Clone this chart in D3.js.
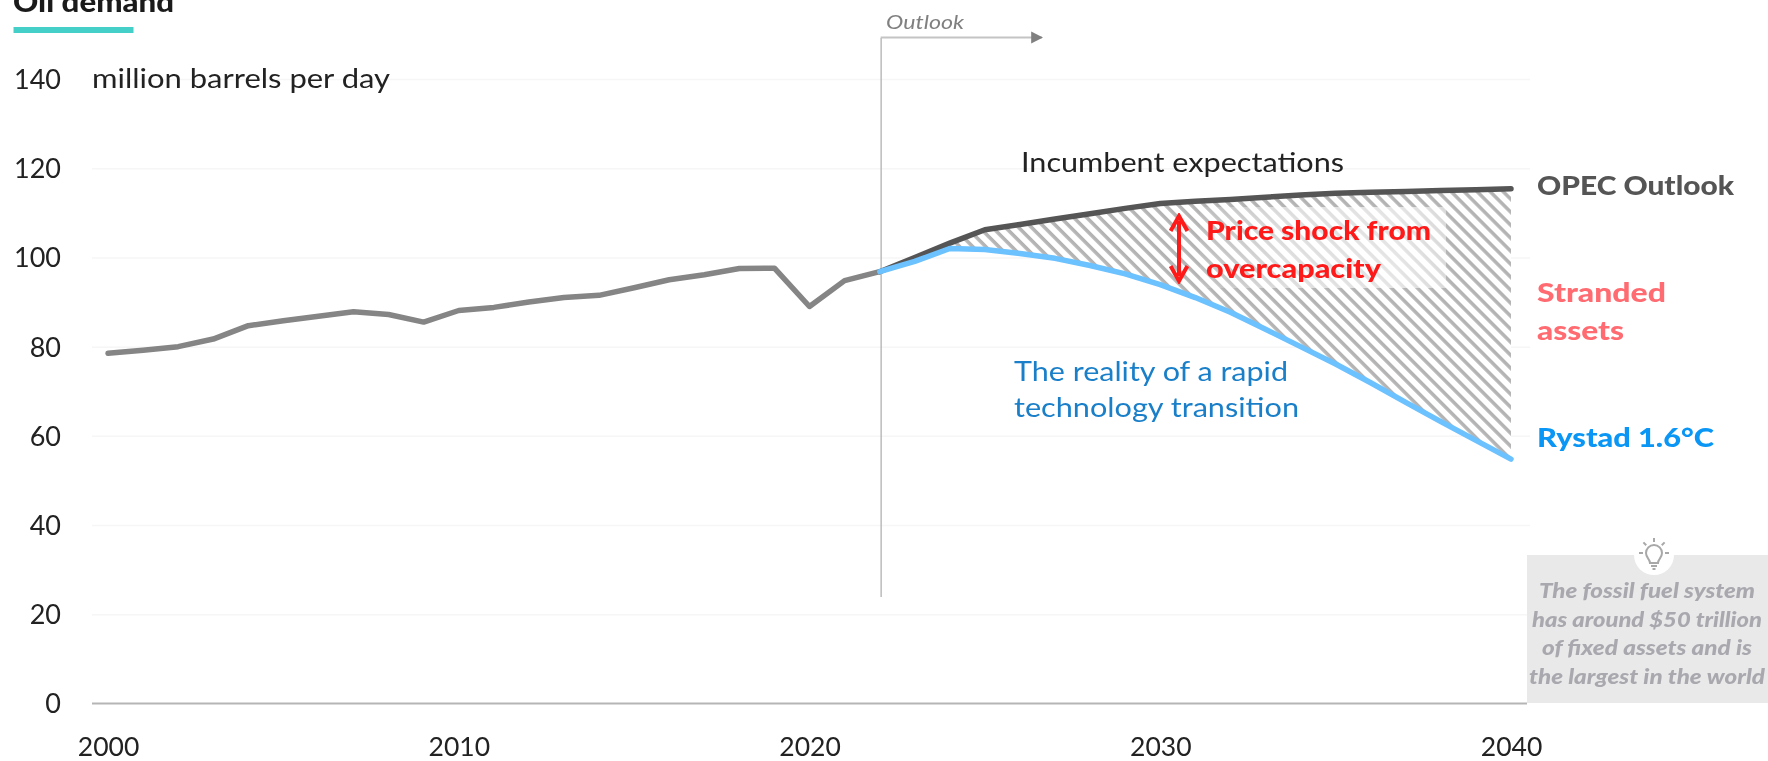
<!DOCTYPE html>
<html><head><meta charset="utf-8">
<script src="https://cdn.jsdelivr.net/npm/d3@7"></script>
<style>
html,body{margin:0;padding:0;background:#fff;overflow:hidden}
svg{display:block;font-family:Lato,sans-serif;filter:blur(0.5px)}
</style></head><body>
<svg id="chart" width="1768" height="761"></svg>
<script>
const historyYears=[2000,2001,2002,2003,2004,2005,2006,2007,2008,2009,2010,2011,2012,2013,2014,2015,2016,2017,2018,2019,2020,2021,2022];
const historyValues=[78.5,79.2,80,81.7,84.7,85.8,86.8,87.8,87.2,85.5,88.1,88.8,90,91,91.5,93.2,95,96.1,97.5,97.6,89,94.8,96.8];
const outlookYears=[2022,2023,2024,2025,2026,2027,2028,2029,2030,2031,2032,2033,2034,2035,2036,2037,2038,2039,2040];
const opecValues=[96.8,100,103.2,106.2,107.4,108.6,109.8,111,112.1,112.6,113,113.5,114,114.4,114.6,114.8,115,115.2,115.4];
const rystadValues=[96.8,99.1,102,101.8,100.9,99.8,98.2,96.3,93.9,91,87.7,83.9,80,76.1,71.9,67.5,63.2,59,54.8];
const yTicks=[0,20,40,60,80,100,120,140];
const xTicks=[2000,2010,2020,2030,2040];
const outlookStart=2022;

const svg=d3.select("#chart");
const x=d3.scaleLinear().domain([2000,2040]).range([108,1511]);
const y=d3.scaleLinear().domain([0,140]).range([703.5,79]);
const defs=svg.append("defs");

const hatch=defs.append("pattern").attr("id","hatch").attr("patternUnits","userSpaceOnUse")
  .attr("width",9.2).attr("height",9.2).attr("patternTransform","rotate(45)");
hatch.append("rect").attr("width",9.2).attr("height",9.2).attr("fill","#fff");
hatch.append("rect").attr("y",0).attr("width",9.2).attr("height",3.5).attr("fill","#b4b4b4");

const fade=defs.append("linearGradient").attr("id","fade");
[[0,0.1],[0.35,0.55],[0.8,0.65],[1,0.5]].forEach(([o,a])=>
  fade.append("stop").attr("offset",o).attr("stop-color","#fff").attr("stop-opacity",a));

const arrow=defs.append("marker").attr("id","head").attr("viewBox","0 0 10 10").attr("refX",9).attr("refY",5)
  .attr("markerUnits","userSpaceOnUse").attr("markerWidth",12).attr("markerHeight",14).attr("orient","auto");
arrow.append("path").attr("d","M0,0L10,5L0,10Z").attr("fill","#808080");

const redHead=defs.append("marker").attr("id","redhead").attr("viewBox","0 0 10 10").attr("refX",6).attr("refY",5)
  .attr("markerUnits","userSpaceOnUse").attr("markerWidth",20).attr("markerHeight",20).attr("orient","auto-start-reverse");
redHead.append("path").attr("d","M1,0.8L8.5,5L1,9.2").attr("fill","none").attr("stroke","#ff1a1a").attr("stroke-width",2);

// Axes
const gridAxis=d3.axisLeft(y).tickValues(yTicks).tickSize(-(1530-92)).tickPadding(0).tickFormat(d3.format("d"));
const yG=svg.append("g").attr("transform","translate(92,0)").call(gridAxis);
yG.select(".domain").remove();
yG.selectAll(".tick line").attr("stroke",d=>d===0?"none":"#f6f6f6").attr("stroke-width",1.5);
yG.selectAll(".tick text").attr("x",-31).attr("dy","0.35em").attr("font-size",27).attr("fill","#222").attr("font-family","Lato");

const xAxis=d3.axisBottom(x).tickValues(xTicks).tickSize(0).tickFormat(d3.format("d"));
const xG=svg.append("g").attr("transform","translate(0,703.5)").call(xAxis);
xG.select(".domain").remove();
xG.selectAll(".tick text").attr("y",43).attr("dy","0.35em").attr("font-size",26.5).attr("fill","#222").attr("font-family","Lato");

svg.append("line").attr("x1",92).attr("x2",1527).attr("y1",y(0)).attr("y2",y(0)).attr("stroke","#b5b5b5").attr("stroke-width",2);

// Hatched gap
const gap=outlookYears.map((yr,i)=>({yr,hi:opecValues[i],lo:rystadValues[i]}));
svg.append("path").datum(gap)
  .attr("d",d3.area().x(d=>x(d.yr)).y0(d=>y(d.lo)).y1(d=>y(d.hi)))
  .attr("fill","url(#hatch)");
svg.append("rect").attr("x",1200).attr("y",207).attr("width",246).attr("height",81).attr("fill","url(#fade)");

// Outlook marker
svg.append("line").attr("x1",x(outlookStart)+1.5).attr("x2",x(outlookStart)+1.5).attr("y1",38).attr("y2",597).attr("stroke","#bbb").attr("stroke-width",1.5);
svg.append("line").attr("x1",x(outlookStart)+1).attr("x2",1042).attr("y1",37.5).attr("y2",37.5).attr("stroke","#c4c4c4").attr("stroke-width",2).attr("marker-end","url(#head)");

// Lines
const line=d3.line().x(d=>x(d[0])).y(d=>y(d[1]));
const drawLine=(xs,ys,color)=>svg.append("path").datum(d3.zip(xs,ys)).attr("d",line)
  .attr("fill","none").attr("stroke",color).attr("stroke-width",5.5).attr("stroke-linejoin","round").attr("stroke-linecap","round");
drawLine(historyYears,historyValues,"#858585");
drawLine(outlookYears,opecValues,"#555555");
drawLine(outlookYears,rystadValues,"#6cc1ff");

// Double arrow
svg.append("line").attr("x1",1179).attr("x2",1179).attr("y1",221).attr("y2",276)
  .attr("stroke","#ff1a1a").attr("stroke-width",4)
  .attr("marker-start","url(#redhead)").attr("marker-end","url(#redhead)");

// Text
const label=(t,xp,yp,o={})=>{
  const el=svg.append("text").attr("x",xp).attr("y",yp).attr("dy","0.35em").text(t)
    .attr("font-size",o.size||27).attr("fill",o.color||"#222")
    .attr("font-weight",o.weight||400).attr("font-style",o.style||"normal")
    .attr("text-anchor",o.anchor||"start");
  if(o.len) el.attr("textLength",o.len).attr("lengthAdjust","spacingAndGlyphs");
  return el;
};
label("Oil demand",13,2,{size:28,weight:900,color:"#1a1a1a",len:161});
svg.append("rect").attr("x",13.5).attr("y",27).attr("width",120).attr("height",6).attr("fill","#45cfc9");
label("million barrels per day",92,79,{len:298});
label("Outlook",886,22,{size:20,style:"italic",color:"#808080",len:78});
label("Incumbent expectations",1021,163,{len:323});
label("Price shock from",1206,231,{weight:900,color:"#ff1a1a",len:225});
label("overcapacity",1206,269,{weight:900,color:"#ff1a1a",len:175});
label("The reality of a rapid",1014,372,{color:"#1a7fc9",len:274});
label("technology transition",1014,408,{color:"#1a7fc9",len:285});
label("OPEC Outlook",1537,186,{weight:900,color:"#555",len:197});
label("Stranded",1537,293,{weight:900,color:"#ff6b70",len:129});
label("assets",1537,331,{weight:900,color:"#ff6b70",len:87});
label("Rystad 1.6°C",1537,438,{weight:900,color:"#0a96f5",len:177});

// Callout
svg.append("rect").attr("x",1527).attr("y",555).attr("width",241).attr("height",148).attr("fill","#e9e9e9");
svg.append("circle").attr("cx",1654).attr("cy",555).attr("r",20).attr("fill","#fff");
const bulb=svg.append("g").attr("transform","translate(1654,555)").attr("fill","none").attr("stroke","#a8a8a8").attr("stroke-width",2);
bulb.append("path").attr("d","M-4,8 C-4,4 -8,3 -8,-2 A8,8 0 1 1 8,-2 C8,3 4,4 4,8 Z");
bulb.append("path").attr("d","M-3,11H3M-1.5,14H1.5");
d3.range(-90,91,45).forEach(a=>{
  const c=Math.cos((a-90)*Math.PI/180),s=Math.sin((a-90)*Math.PI/180);
  bulb.append("line").attr("x1",c*11).attr("y1",s*11-2).attr("x2",c*15).attr("y2",s*15-2);
});
const calloutLines=[["The fossil fuel system",591,216],["has around $50 trillion",620,230],["of fixed assets and is",648,210],["the largest in the world",677,236]];
calloutLines.forEach(([t,yp,len])=>label(t,1647,yp,{size:21,weight:900,style:"italic",color:"#a8a8ae",anchor:"middle",len}));
</script>
</body></html>
